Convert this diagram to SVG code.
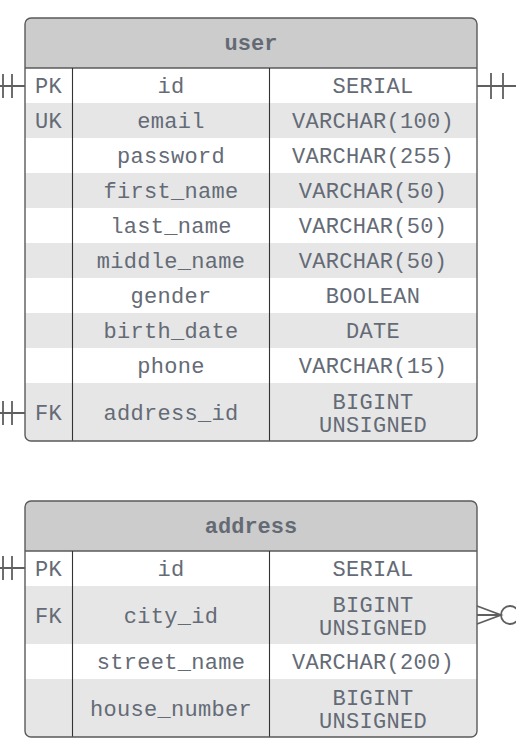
<svg xmlns="http://www.w3.org/2000/svg" width="516" height="748" viewBox="0 0 516 748">
<style>
.hdr{fill:#cccccc}
.alt{fill:#e6e6e6}
.frame{fill:none;stroke:#5a5a5a;stroke-width:1.4}
.div{stroke:#333;stroke-width:1.1}
.sep{stroke:#5a5a5a;stroke-width:1.4}
.t{font-family:"Liberation Mono","DejaVu Sans Mono",monospace;font-size:22px;letter-spacing:0.3px;fill:#646b76;text-anchor:middle}
.h{font-family:"Liberation Mono","DejaVu Sans Mono",monospace;font-size:22px;font-weight:bold;fill:#646a74;text-anchor:middle}
.c{fill:none;stroke:#5f5f5f;stroke-width:1.8}
</style>
<defs>
<clipPath id="cu"><rect x="25" y="18" width="452" height="423" rx="6"/></clipPath>
<clipPath id="ca"><rect x="25" y="501" width="452" height="236" rx="6"/></clipPath>
</defs>
<g id="user">
<g clip-path="url(#cu)">
<rect x="25" y="18" width="452" height="423" fill="#ffffff"/>
<rect class="hdr" x="25" y="18" width="452" height="50"/>
<rect class="alt" x="25" y="103" width="452" height="35"/>
<rect class="alt" x="25" y="173" width="452" height="35"/>
<rect class="alt" x="25" y="243" width="452" height="35"/>
<rect class="alt" x="25" y="313" width="452" height="35"/>
<rect class="alt" x="25" y="383" width="452" height="58"/>
</g>
<line class="sep" x1="25" y1="68" x2="477" y2="68"/>
<line class="div" x1="72.5" y1="68" x2="72.5" y2="441"/>
<line class="div" x1="269.5" y1="68" x2="269.5" y2="441"/>
<rect class="frame" x="25" y="18" width="452" height="423" rx="6"/>
<text class="h" x="251" y="50">user</text>
<text class="t" x="48.5" y="93">PK</text><text class="t" x="171" y="93">id</text><text class="t" x="373" y="93">SERIAL</text>
<text class="t" x="48.5" y="128">UK</text><text class="t" x="171" y="128">email</text><text class="t" x="373" y="128">VARCHAR(100)</text>
<text class="t" x="171" y="163">password</text><text class="t" x="373" y="163">VARCHAR(255)</text>
<text class="t" x="171" y="198">first_name</text><text class="t" x="373" y="198">VARCHAR(50)</text>
<text class="t" x="171" y="233">last_name</text><text class="t" x="373" y="233">VARCHAR(50)</text>
<text class="t" x="171" y="268">middle_name</text><text class="t" x="373" y="268">VARCHAR(50)</text>
<text class="t" x="171" y="303">gender</text><text class="t" x="373" y="303">BOOLEAN</text>
<text class="t" x="171" y="338">birth_date</text><text class="t" x="373" y="338">DATE</text>
<text class="t" x="171" y="373">phone</text><text class="t" x="373" y="373">VARCHAR(15)</text>
<text class="t" x="48.5" y="420">FK</text><text class="t" x="171" y="420">address_id</text>
<text class="t" x="373" y="409">BIGINT</text><text class="t" x="373" y="432">UNSIGNED</text>
</g>
<g id="address">
<g clip-path="url(#ca)">
<rect x="25" y="501" width="452" height="236" fill="#ffffff"/>
<rect class="hdr" x="25" y="501" width="452" height="50"/>
<rect class="alt" x="25" y="586" width="452" height="58"/>
<rect class="alt" x="25" y="679" width="452" height="58"/>
</g>
<line class="sep" x1="25" y1="551" x2="477" y2="551"/>
<line class="div" x1="72.5" y1="551" x2="72.5" y2="737"/>
<line class="div" x1="269.5" y1="551" x2="269.5" y2="737"/>
<rect class="frame" x="25" y="501" width="452" height="236" rx="6"/>
<text class="h" x="251" y="533">address</text>
<text class="t" x="48.5" y="576">PK</text><text class="t" x="171" y="576">id</text><text class="t" x="373" y="576">SERIAL</text>
<text class="t" x="48.5" y="623">FK</text><text class="t" x="171" y="623">city_id</text>
<text class="t" x="373" y="612">BIGINT</text><text class="t" x="373" y="635">UNSIGNED</text>
<text class="t" x="171" y="669">street_name</text><text class="t" x="373" y="669">VARCHAR(200)</text>
<text class="t" x="171" y="716">house_number</text>
<text class="t" x="373" y="705">BIGINT</text><text class="t" x="373" y="728">UNSIGNED</text>
</g>
<g id="connectors">
<path class="c" d="M0 86H25M3 74V98M12 74V98"/>
<path class="c" d="M477 86H516M491 73V99M503 73V99"/>
<path class="c" d="M0 413H25M3 401V425M12 401V425"/>
<path class="c" d="M0 568H25M3 556V580M12 556V580"/>
<path class="c" d="M477 606L501 615L477 624M477 615H501"/>
<circle class="c" cx="510" cy="615" r="9"/>
</g>
</svg>
